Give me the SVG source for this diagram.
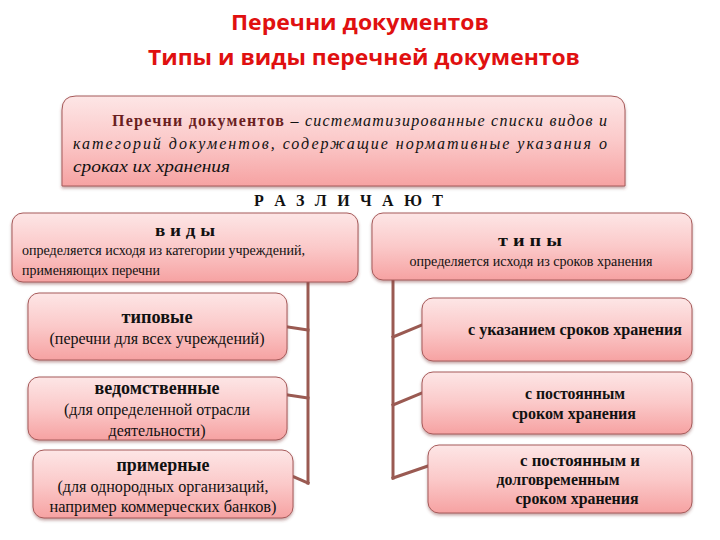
<svg xmlns="http://www.w3.org/2000/svg" width="720" height="540" viewBox="0 0 720 540">
<defs>
<linearGradient id="pink" x1="0" y1="0" x2="0" y2="1">
<stop offset="0" stop-color="#fde6e6"/>
<stop offset="0.5" stop-color="#fbc9c9"/>
<stop offset="1" stop-color="#f6a2a2"/>
</linearGradient>
<filter id="sh" x="-5%" y="-10%" width="110%" height="130%">
<feDropShadow dx="0" dy="2" stdDeviation="1.5" flood-color="#804040" flood-opacity="0.45"/>
</filter>
<style>
.box{fill:url(#pink);stroke:#a65a5a;stroke-width:1;filter:url(#sh)}
.t{fill:#111}
.b{font-weight:bold}
.c{text-anchor:middle}
.title{font-weight:bold;font-size:21px;fill:#e01010;text-anchor:middle}
.con{stroke:#9a5a52;stroke-width:3;fill:none;stroke-linecap:square}
</style>
</defs>
<rect width="720" height="540" fill="#ffffff"/>

<g id="title" font-family="'Open Sans','Noto Sans',sans-serif">
<text class="title" x="360" y="30" textLength="258" lengthAdjust="spacingAndGlyphs">Перечни документов</text>
<text class="title" x="364" y="65" textLength="432" lengthAdjust="spacingAndGlyphs">Типы и виды перечней документов</text>
</g>

<g font-family="'Liberation Serif','DejaVu Serif','Noto Serif',serif">
<g id="definition">
<path class="box" d="M62,186 L62,110 Q62,96 76,96 L611,96 Q625,96 625,110 L625,186 Z"/>
<text class="t" x="112" y="126" font-size="16" textLength="495" lengthAdjust="spacing"><tspan class="b" fill="#6b1f1f">Перечни документов</tspan><tspan font-style="italic"> – систематизированные списки видов и</tspan></text>
<text class="t" x="73" y="149" font-size="16" font-style="italic" textLength="534" lengthAdjust="spacing">категорий документов, содержащие нормативные указания о</text>
<text class="t" x="73" y="172" font-size="16" font-style="italic" textLength="157" lengthAdjust="spacingAndGlyphs">сроках их хранения</text>
</g>

<g id="razlichayut">
<text class="t b" x="254" y="206" font-size="16" textLength="189" lengthAdjust="spacing">Р А З Л И Ч А Ю Т</text>
</g>

<g id="connectors">
<polyline class="con" points="308,283 308,483"/>
<line class="con" x1="288" y1="327" x2="308" y2="330"/>
<line class="con" x1="288" y1="395" x2="308" y2="398"/>
<line class="con" x1="294" y1="477" x2="308" y2="483"/>
<polyline class="con" points="393,281 393,478"/>
<line class="con" x1="393" y1="337" x2="422" y2="325"/>
<line class="con" x1="393" y1="405" x2="422" y2="393"/>
<line class="con" x1="393" y1="478" x2="428" y2="466"/>
</g>

<g id="vidy">
<rect class="box" x="12" y="213" width="346" height="69" rx="11"/>
<text class="t b c" x="185" y="236" font-size="17" textLength="60" lengthAdjust="spacingAndGlyphs">в и д ы</text>
<text class="t" x="22" y="255" font-size="14" textLength="283" lengthAdjust="spacingAndGlyphs">определяется исходя из категории учреждений,</text>
<text class="t" x="22" y="275" font-size="14" textLength="138" lengthAdjust="spacingAndGlyphs">применяющих перечни</text>
</g>

<g id="tipy">
<rect class="box" x="372" y="213" width="320" height="67" rx="11"/>
<text class="t b c" x="530" y="246" font-size="17" textLength="64" lengthAdjust="spacingAndGlyphs">т и п ы</text>
<text class="t c" x="531" y="266" font-size="14" textLength="243" lengthAdjust="spacingAndGlyphs">определяется исходя из сроков хранения</text>
</g>

<g id="tipovye">
<rect class="box" x="28" y="293" width="259" height="67" rx="11"/>
<text class="t b c" x="157" y="323" font-size="18" textLength="71" lengthAdjust="spacingAndGlyphs">типовые</text>
<text class="t c" x="157" y="344" font-size="16" textLength="215" lengthAdjust="spacingAndGlyphs">(перечни для всех учреждений)</text>
</g>

<g id="vedomstvennye">
<rect class="box" x="28" y="377" width="259" height="63" rx="11"/>
<text class="t b c" x="157" y="394" font-size="18" textLength="125" lengthAdjust="spacingAndGlyphs">ведомственные</text>
<text class="t c" x="157" y="415" font-size="16" textLength="186" lengthAdjust="spacingAndGlyphs">(для определенной отрасли</text>
<text class="t c" x="157" y="436" font-size="16" textLength="97" lengthAdjust="spacingAndGlyphs">деятельности)</text>
</g>

<g id="primernye">
<rect class="box" x="33" y="450" width="260" height="68" rx="11"/>
<text class="t b c" x="163" y="471" font-size="18" textLength="93" lengthAdjust="spacingAndGlyphs">примерные</text>
<text class="t c" x="163" y="492" font-size="16" textLength="211" lengthAdjust="spacingAndGlyphs">(для однородных организаций,</text>
<text class="t c" x="163" y="512" font-size="16" textLength="227" lengthAdjust="spacingAndGlyphs">например коммерческих банков)</text>
</g>

<g id="s-ukazaniem">
<rect class="box" x="422" y="298" width="270" height="63" rx="11"/>
<text class="t b c" x="575" y="335" font-size="16" textLength="214" lengthAdjust="spacingAndGlyphs">с указанием сроков хранения</text>
</g>

<g id="s-postoyannym">
<rect class="box" x="422" y="372" width="270" height="62" rx="11"/>
<text class="t b c" x="575" y="399" font-size="16" textLength="100" lengthAdjust="spacingAndGlyphs">с постоянным</text>
<text class="t b c" x="574" y="419" font-size="16" textLength="124" lengthAdjust="spacingAndGlyphs">сроком хранения</text>
</g>

<g id="s-postoyannym-dolgovremennym">
<rect class="box" x="428" y="445" width="264" height="68" rx="11"/>
<text class="t b c" x="580" y="466" font-size="16" textLength="120" lengthAdjust="spacingAndGlyphs">с постоянным и</text>
<text class="t b c" x="558" y="485" font-size="16" textLength="123" lengthAdjust="spacingAndGlyphs">долговременным</text>
<text class="t b c" x="577" y="504" font-size="16" textLength="123" lengthAdjust="spacingAndGlyphs">сроком хранения</text>
</g>
</g>
</svg>
